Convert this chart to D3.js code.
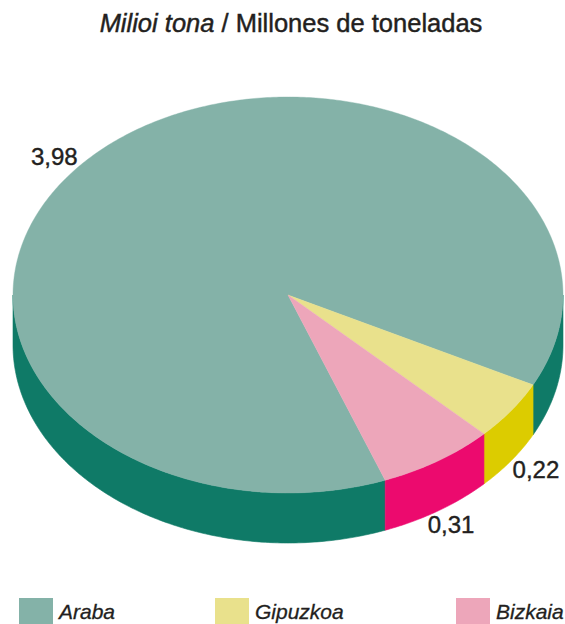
<!DOCTYPE html>
<html>
<head>
<meta charset="utf-8">
<script src="https://cdn.jsdelivr.net/npm/d3@7"></script>
<style>
  html, body { margin: 0; padding: 0; background: #fff; }
  svg { display: block; font-family: "Liberation Sans", Arial, Helvetica, sans-serif; }
</style>
</head>
<body>
<svg id="chart" width="565" height="624"></svg>
<script>
// Production by territory, millions of tonnes
const categories = ["Araba", "Gipuzkoa", "Bizkaia"];
const values = [3.98, 0.22, 0.31];
const valueLabels = ["3,98", "0,22", "0,31"];
const topColors = ["#84b2a8", "#e9e18c", "#eda6ba"];
const sideColors = ["#0f7a67", "#dccc00", "#ec0a6e"];

const W = 565, H = 624;
const cx = 288, cy = 295, rx = 275, ry = 198, depth = 50;
const startDeg = 159.3;
const ink = "#231f20";

const svg = d3.select("#chart");

// Title: Basque in italics, Spanish upright
const title = svg.append("text")
  .attr("x", 291).attr("y", 32)
  .attr("text-anchor", "middle")
  .attr("font-size", 25.5)
  .attr("fill", ink)
  .attr("stroke", ink)
  .attr("stroke-width", 0.45);
title.append("tspan").attr("font-style", "italic").text("Milioi tona");
title.append("tspan").text(" / Millones de toneladas");

const pie = d3.pie().sort(null)
  .startAngle(startDeg * Math.PI / 180)
  .endAngle(startDeg * Math.PI / 180 + 2 * Math.PI);
const slices = pie(values);

// elliptical projection of a d3 pie angle (0 = up, clockwise)
const px = a => cx + rx * Math.sin(a);
const py = a => cy - ry * Math.cos(a);

function arcPoints(a0, a1, n) {
  const pts = [];
  for (let i = 0; i <= n; i++) {
    const a = a0 + (a1 - a0) * i / n;
    pts.push([px(a), py(a)]);
  }
  return pts;
}

const line = d3.line();

// Outer walls: only the front half (angles between 90° and 270°) is visible
const g = svg.append("g");
slices.forEach((s, i) => {
  for (let k = -1; k <= 1; k++) {
    const lo = Math.PI / 2 + k * 2 * Math.PI, hi = 3 * Math.PI / 2 + k * 2 * Math.PI;
    const a0 = Math.max(s.startAngle, lo), a1 = Math.min(s.endAngle, hi);
    if (a1 <= a0) continue;
    const n = Math.max(8, Math.ceil((a1 - a0) * 90));
    const top = arcPoints(a0, a1, n);
    const bottom = top.map(p => [p[0], p[1] + depth]).reverse();
    g.append("path")
      .attr("d", line(top.concat(bottom)) + "Z")
      .attr("fill", sideColors[i])
      .attr("stroke", sideColors[i])
      .attr("stroke-width", 0.6);
  }
});

// Top faces
slices.forEach((s, i) => {
  const n = Math.max(8, Math.ceil((s.endAngle - s.startAngle) * 90));
  const pts = [[cx, cy]].concat(arcPoints(s.startAngle, s.endAngle, n));
  g.append("path")
    .attr("d", line(pts) + "Z")
    .attr("fill", topColors[i])
    .attr("stroke", topColors[i])
    .attr("stroke-width", 0.4);
});

// Value labels
const labelPlace = [
  { angle: 309.4 * Math.PI / 180, k: 1.1, drop: 0, dx: 0 },
  { angle: null, k: 1.08, drop: depth, dx: 7 },
  { angle: null, k: 1.08, drop: depth, dx: 1 }
];
slices.forEach((s, i) => {
  const p = labelPlace[i];
  const a = p.angle != null ? p.angle : (s.startAngle + s.endAngle) / 2;
  svg.append("text")
    .attr("x", cx + rx * p.k * Math.sin(a) + p.dx)
    .attr("y", cy - ry * p.k * Math.cos(a) + p.drop)
    .attr("dy", "0.35em")
    .attr("text-anchor", "middle")
    .attr("font-size", 24)
    .attr("fill", ink)
    .attr("stroke", ink)
    .attr("stroke-width", 0.4)
    .text(valueLabels[i]);
});

// Legend
const legendLeft = [19, 215, 456];
const leg = svg.append("g").selectAll("g").data(categories).join("g")
  .attr("transform", (d, i) => `translate(${legendLeft[i]},598)`);
leg.append("rect")
  .attr("width", 34).attr("height", 30)
  .attr("fill", (d, i) => topColors[i]);
leg.append("text")
  .attr("x", 40).attr("y", 21)
  .attr("font-size", 21)
  .attr("font-style", "italic")
  .attr("fill", ink)
  .attr("stroke", ink)
  .attr("stroke-width", 0.3)
  .text(d => d);
</script>
</body>
</html>
